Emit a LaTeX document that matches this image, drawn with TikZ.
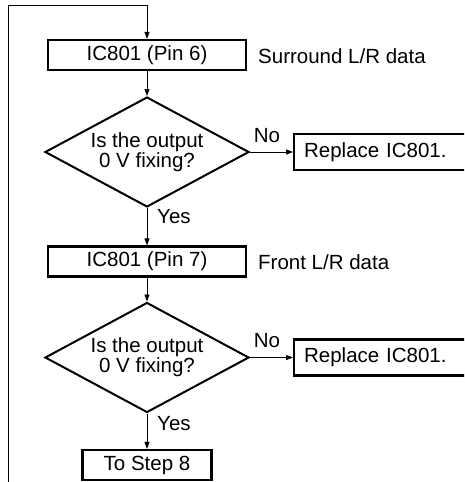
\documentclass[tikz,border=0pt]{standalone}
\usepackage{fontspec}
\setmainfont{Liberation Sans}
\usetikzlibrary{shapes.geometric,arrows.meta}
\begin{document}
\begin{tikzpicture}[x=1pt,y=-1pt,
  every node/.style={font=\fontsize{20.5}{20}\selectfont},
  box/.style={draw,line width=2.2pt,inner sep=0pt,minimum height=30pt},
  dia/.style={diamond,draw,line width=2pt,aspect=1.85,inner sep=0pt,
    minimum width=204pt,minimum height=110pt,align=center},
  lbl/.style={inner sep=0pt},
  arr/.style={-{Triangle[length=7pt,width=5pt]},line width=0.9pt}]
\useasboundingbox (0,0) rectangle (464,482);
\clip (0,0) rectangle (464,482);
% first block
\node[box,minimum width=198pt] (b1) at (147,55) {IC801 (Pin 6)};
\node[lbl,anchor=west] (s1) at (258,56) {Surround L/R data};
\node[dia] (d1) at (147,152) {Is the output\\0 V fixing?};
\node[box,anchor=west,minimum height=36pt,text width=153pt,inner xsep=10pt,align=left] (r1) at (293,152) {Replace IC801.};
\node[lbl] (n1) at (267,136) {No};
\node[lbl,anchor=west] (y1) at (157,217) {Yes};
% second block
\node[box,minimum width=198pt] (b2) at (147,261.5) {IC801 (Pin 7)};
\node[lbl,anchor=west] (s2) at (258,262) {Front L/R data};
\node[dia] (d2) at (147,357.5) {Is the output\\0 V fixing?};
\node[box,anchor=west,minimum height=36pt,text width=153pt,inner xsep=10pt,align=left] (r2) at (293,357.5) {Replace IC801.};
\node[lbl] (n2) at (267,341) {No};
\node[lbl,anchor=west] (y2) at (157,423.5) {Yes};
\node[box,minimum width=129pt] (st) at (147,465) {To Step 8};
% loop
\coordinate (lb) at (8,490);
\coordinate (lt) at (8,5);
\draw[arr] (lb) -- (lt) -| (b1.north);
% connectors
\draw[arr] (b1.south) -- (d1.north);
\draw[arr] (d1.east) -- (r1.west);
\draw[arr] (d1.south) -- (b2.north);
\draw[arr] (b2.south) -- (d2.north);
\draw[arr] (d2.east) -- (r2.west);
\draw[arr] (d2.south) -- (st.north);
\end{tikzpicture}
\end{document}
